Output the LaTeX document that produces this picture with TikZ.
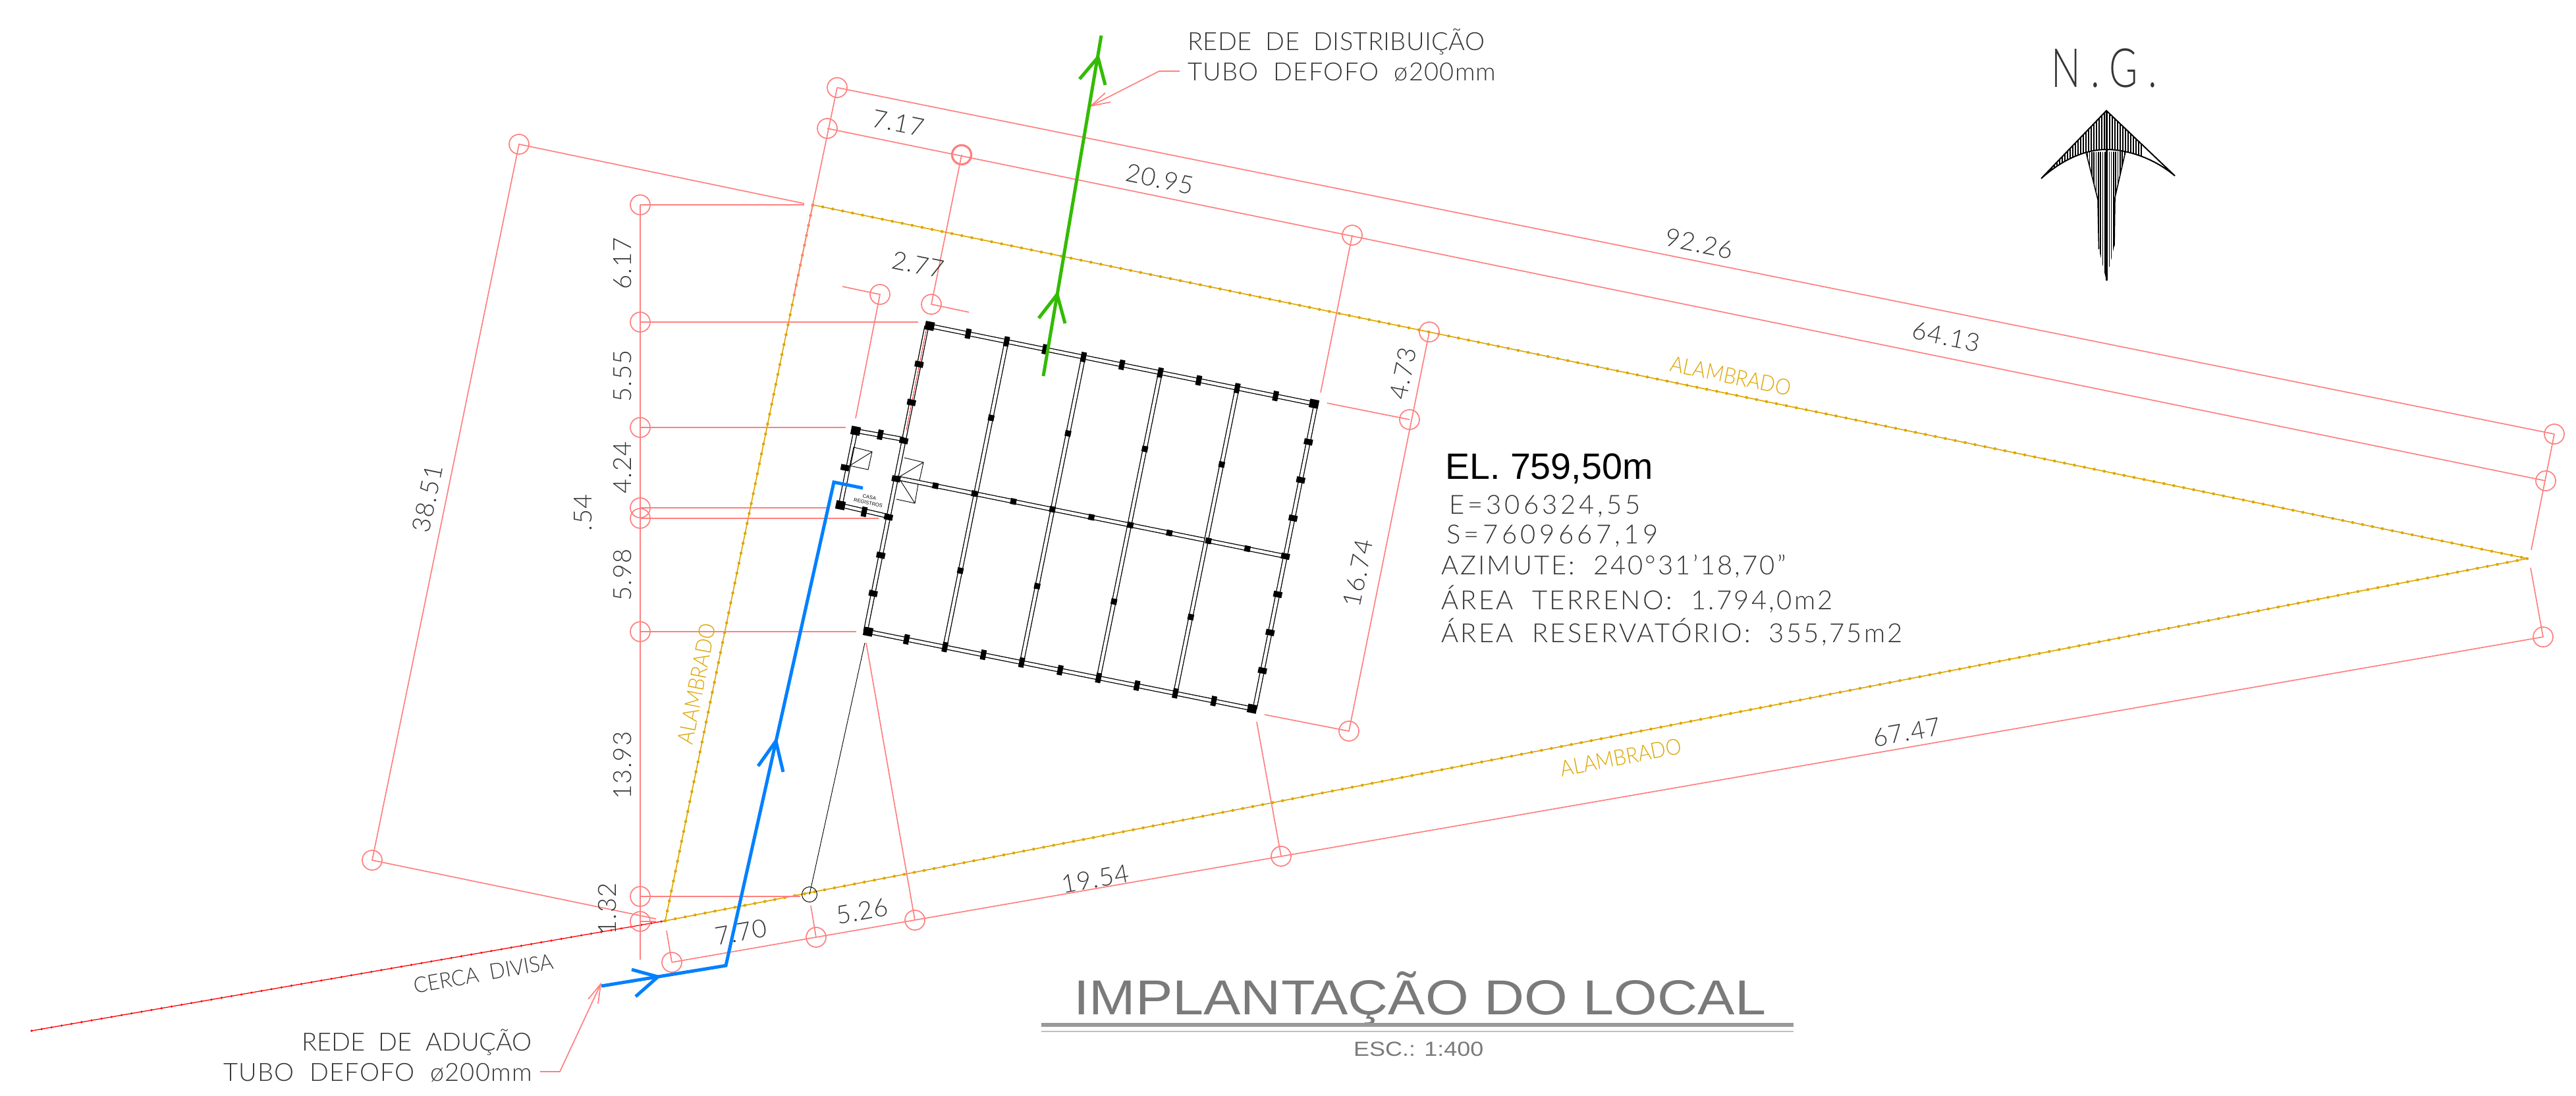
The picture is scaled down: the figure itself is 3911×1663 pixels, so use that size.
\documentclass[tikz,border=0pt]{standalone}
\usepackage{fontspec}
\usetikzlibrary{calc}
\setmainfont{Liberation Sans}
\newfontfamily\cadfont{Lato Light}
\definecolor{cota}{HTML}{FF8080}
\definecolor{alamb}{HTML}{DDA600}
\definecolor{tuboaz}{HTML}{0080FF}
\definecolor{tubove}{HTML}{33BB00}
\definecolor{texto}{HTML}{353535}
\tikzset{
	cotaln/.style={draw=cota, line width=1.7pt},
	alambln/.style={draw=alamb, line width=1.6pt, postaction={draw=alamb, line width=4.6pt, line cap=round, dash pattern=on 0pt off 15.4pt}},
	cercaln/.style={draw=red, line width=1.3pt, postaction={draw=red, line width=3.6pt, line cap=round, dash pattern=on 0pt off 15.4pt}},
	azul/.style={draw=tuboaz, line width=5pt},
	verde/.style={draw=tubove, line width=5pt},
	viga/.style={draw=black, line width=1.3pt, double=white, double distance=4.5pt},
	pilarh/.style={fill=black, inner sep=0pt, minimum width=8pt, minimum height=15pt, rotate=-11.4},
	pilarv/.style={fill=black, inner sep=0pt, minimum width=13pt, minimum height=9pt, rotate=-11.4},
	pilarq/.style={fill=black, inner sep=0pt, minimum size=9pt, rotate=-11.4},
	pilarc/.style={fill=black, inner sep=0pt, minimum width=14pt, minimum height=13pt, rotate=-11.4},
	medida/.style={text=texto, inner sep=0pt, font=\cadfont\addfontfeature{LetterSpace=4}\fontsize{38}{40}\selectfont},
	rotulo/.style={text=texto, inner sep=0pt, font=\cadfont\addfontfeature{LetterSpace=#1}\fontsize{38}{40}\selectfont},
	rotulo/.default=0,
	dado/.style={text=texto, inner sep=0pt, anchor=base west, font=\cadfont\addfontfeature{LetterSpace=#1}\fontsize{40}{42}\selectfont},
	ralamb/.style={text=alamb, inner sep=0pt, font=\cadfont\addfontfeature{FakeStretch=.9}\fontsize{33.5}{35}\selectfont},
	hachura/.style={draw=black, line width=1.6pt},
}
\begin{document}
\begin{tikzpicture}[x=1pt, y=-1pt]
	\useasboundingbox (0,0) rectangle (3911,1663);

	\draw[cercaln] (48,1565) -- (1010,1398);
	\draw[alambln] (1234,311) -- (3837,848);
	\draw[alambln] (1010,1398) -- (3837,848);
	\draw[alambln] (1010,1398) -- (1234,311);

	\foreach \cx/\cy in {1271/133,1256/195,1460/235,2053/357,3878/659,3865/730,3861/967,788/219,565/1306,
		972/311,972/489,972/649,972/771,972/787,972/959,972/1361,972/1399,
		1336/447,1414/462,2170/504,2140/637,2048/1110,1020/1461,1239/1423,1389/1397,1945/1300}
		\draw[cotaln] (\cx,\cy) circle (15pt);
	\draw[cotaln, line width=3.2pt] (1460,235) circle (14.5pt);

	\draw[cotaln] (1271,133) -- (3878,659);
	\draw[cotaln] (1256,195) -- (3865,730);
	\draw[cotaln] (1271,133) -- (1205,450);
	\draw[cotaln] (1221,309) -- (788,219) -- (565,1306) -- (996,1395);
	\draw[cotaln] (972,311) -- (972,1457);
	\draw[cotaln] (972,311) -- (1221,311);
	\draw[cotaln] (972,489) -- (1394,489);
	\draw[cotaln] (972,649) -- (1284,649);
	\draw[cotaln] (972,771) -- (1255,771);
	\draw[cotaln] (972,787) -- (1334,787);
	\draw[cotaln] (972,959) -- (1300,959);
	\draw[cotaln] (972,1361) -- (1215,1361);
	\draw[cotaln] (972,1399) -- (996,1399);
	\draw[cotaln] (1460,235) -- (1414,462) -- (1471,474);
	\draw[cotaln] (1279,435) -- (1336,447) -- (1299,635);
	\draw[cotaln] (2053,357) -- (2005,596);
	\draw[cotaln] (2170,504) -- (2048,1110) -- (1920,1085);
	\draw[cotaln] (2015,612) -- (2140,637);
	\draw[cotaln] (1020,1461) -- (3861,967);
	\draw[cotaln] (1012,1413) -- (1020,1461);
	\draw[cotaln] (1231,1375) -- (1239,1423);
	\draw[cotaln] (1315,976) -- (1389,1397);
	\draw[cotaln] (1908,1096) -- (1945,1300);
	\draw[cotaln] (3842,862) -- (3861,967);
	\draw[cotaln] (3843,835) -- (3878,659);
	\draw[cotaln] (1791,108) -- (1760,108) -- (1656,161);
	\draw[cotaln] (1678,141) -- (1656,161) -- (1686,155);
	\draw[cotaln] (820,1627) -- (850,1627) -- (912,1494);
	\draw[cotaln] (893,1517) -- (912,1494) -- (908,1524);

	\draw[draw=black, line width=1pt] (1229,1358) circle (11.5pt);
	\draw[draw=black, line width=.9pt] (1229,1358) -- (1313,976);

	\coordinate (nw) at (1411.5,494.8);
	\coordinate (ne) at (1995,613);
	\coordinate (sw) at (1318,959);
	\coordinate (se) at (1901,1076);
	\coordinate (nwp) at (1407,495);
	\coordinate (swp) at (1314,959);
	\coordinate (nep) at (1998,613);
	\coordinate (sep) at (1905,1076);
	\coordinate (mle) at (1361,725.5);
	\coordinate (mri) at (1953,845);

	\draw[viga] (nw) -- (ne);
	\draw[viga] (sw) -- (se);
	\draw[viga] (nwp) -- (swp);
	\draw[viga] (nep) -- (sep);
	\draw[viga] (mle) -- (mri);
	\foreach \i in {1,...,4}
		\draw[viga] ($(nw)!\i/5!(ne)$) -- ($(sw)!\i/5!(se)$);
	\draw[viga] (1372,667) -- (1299,654) -- (1276,767) -- (1349,784);
	\draw[draw=red, line width=.7pt] (1407,497) -- (1376,653);

	\foreach \i in {1,...,9} {
		\node[pilarh] (pn\i) at ($(nw)!\i/10!(ne)$) {};
		\node[pilarh] (ps\i) at ($(sw)!\i/10!(se)$) {};
		\node[pilarq] (pm\i) at ($(mle)!\i/10!(mri)$) {};
	}
	\foreach \i in {1,...,7} {
		\node[pilarv] (pe\i) at ($(nwp)!\i/8!(swp)$) {};
		\node[pilarv] (pd\i) at ($(nep)!\i/8!(sep)$) {};
	}
	\foreach \i in {1,...,4} {
		\node[pilarq] (pa\i) at ($($(nw)!\i/5!(ne)$)!.25!($(sw)!\i/5!(se)$)$) {};
		\node[pilarq] (pb\i) at ($($(nw)!\i/5!(ne)$)!.75!($(sw)!\i/5!(se)$)$) {};
	}
	\node[pilarc] (cnw) at (nw) {};
	\node[pilarc] (cne) at (ne) {};
	\node[pilarc] (csw) at (sw) {};
	\node[pilarc] (cse) at (se) {};
	\node[pilarc] (atl) at (1299,654) {};
	\node[pilarc] (abl) at (1276,767) {};
	\node[pilarh] (ato) at (1336.5,660) {};
	\node[pilarh] (abo) at (1312,777) {};
	\node[pilarv] (ale) at (1283,710) {};

	\draw[draw=black, line width=.9pt] (1296,679) -- (1324,686) -- (1318,713) -- (1290,707) -- cycle;
	\draw[draw=black, line width=.9pt] (1290,707) -- (1324,686);
	\draw[draw=black, line width=.9pt] (1373,695) -- (1402,702) -- (1396,729);
	\draw[draw=black, line width=.9pt] (1367,723) -- (1402,702);
	\draw[draw=black, line width=.9pt] (1394,735) -- (1389,764) -- (1361,758);
	\draw[draw=black, line width=.9pt] (1366,728) -- (1389,764);
	\node[rotate=-11.4, align=center, inner sep=0pt, font=\fontsize{7.5}{9}\selectfont] (casa) at (1319,759) {CASA\\REGISTROS};

	\draw[azul] (913,1497) -- (1102,1466) -- (1266,732) -- (1310,741);
	\draw[azul] (959,1472) -- (999,1483) -- (965,1513);
	\draw[azul] (1151,1163) -- (1178,1125) -- (1189,1172);
	\draw[verde] (1672,54) -- (1584,571);
	\draw[verde] (1639,120) -- (1667,87) -- (1678,129);
	\draw[verde] (1577,483) -- (1605,447) -- (1617,491);

	\draw[hachura, line width=2pt] (3099,271) -- (3198,168) -- (3302,267) .. controls (3270,240) and (3230,227) .. (3198,227) .. controls (3165,227) and (3130,243) .. (3099,271);
	\begin{scope}
		\clip (3099,271) -- (3198,168) -- (3302,267) .. controls (3270,240) and (3230,227) .. (3198,227) .. controls (3165,227) and (3130,243) .. (3099,271) -- cycle;
		\foreach \x in {3115,3119,...,3252}
			\draw[hachura] (\x,160) -- (\x,280);
	\end{scope}
	\begin{scope}
		\clip (3167,231) -- (3227,230) -- (3211,300) -- (3210,373) -- (3198,426) -- (3186.5,378) -- (3185,303) -- cycle;
		\foreach \x in {3166,3169.3,...,3228}
			\draw[hachura] (\x,225) -- (\x,430);
	\end{scope}
	\draw[hachura] (3167,231) -- (3185,303) -- (3186.5,378);
	\draw[hachura] (3227,230) -- (3211,300) -- (3210,373);
	\draw[draw=black, line width=3pt] (3198,168) -- (3198,426);
	\node[anchor=base west, inner sep=0pt, text=texto, font=\cadfont\addfontfeature{FakeStretch=.72,LetterSpace=19}\fontsize{82}{82}\selectfont] (ng) at (3114,132) {N.G.};

	\node[rotulo=1, anchor=base west] (dist1) at (1803,76) {REDE~~DE~~DISTRIBUIÇÃO};
	\node[rotulo=3.3, anchor=base west] (dist2) at (1803,122) {TUBO~~DEFOFO~~ø200mm};
	\node[rotulo, anchor=base east] (adu1) at (808,1595) {REDE~~DE~~ADUÇÃO};
	\node[rotulo=3.3, anchor=base east] (adu2) at (808,1641) {TUBO~~DEFOFO~~ø200mm};

	\node[anchor=base west, inner sep=0pt, text=black, font=\fontsize{55.6}{58}\selectfont] (elev) at (2194,727) {EL. 759,50m};
	\node[dado=12.5] (coe) at (2200,780) {E=306324,55};
	\node[dado=13.5] (cos) at (2196,825) {S=7609667,19};
	\node[dado=7.6] (azi) at (2188,872) {AZIMUTE:~~240°31’18,70”};
	\node[dado=8.2] (are) at (2188,925) {ÁREA~~TERRENO:~~1.794,0m2};
	\node[dado=8.1] (res) at (2188,975) {ÁREA~~RESERVATÓRIO:~~355,75m2};

	\node[medida, rotate=-11.5] (m1) at (1364,187) {7.17};
	\node[medida, rotate=-11.5] (m2) at (1761,272) {20.95};
	\node[medida, rotate=-11.5] (m3) at (2580,370) {92.26};
	\node[medida, rotate=-11.5] (m4) at (2955,511) {64.13};
	\node[medida, rotate=-11.5] (m5) at (1394,402) {2.77};
	\node[medida, rotate=78.5] (m6) at (2130,567) {4.73};
	\node[medida, rotate=78.5] (m7) at (2062,870) {16.74};
	\node[medida, rotate=78.5] (m8) at (649,757) {38.51};
	\node[medida, rotate=90] (m9) at (945,400) {6.17};
	\node[medida, rotate=90] (m10) at (945,571) {5.55};
	\node[medida, rotate=90] (m11) at (945,710) {4.24};
	\node[medida, rotate=90] (m12) at (885,778) {.54};
	\node[medida, rotate=90] (m13) at (945,873) {5.98};
	\node[medida, rotate=90] (m14) at (945,1162) {13.93};
	\node[medida, rotate=90] (m15) at (922,1380) {1.32};
	\node[medida, rotate=10] (m16) at (1125,1415) {7.70};
	\node[medida, rotate=10] (m17) at (1309,1383) {5.26};
	\node[medida, rotate=10] (m18) at (1663,1334) {19.54};
	\node[medida, rotate=10] (m19) at (2895,1112) {67.47};

	\node[ralamb, rotate=-11.6] (al1) at (2628,571) {ALAMBRADO};
	\node[ralamb, rotate=11] (al2) at (2461,1150) {ALAMBRADO};
	\node[ralamb, rotate=79] (al3) at (1058,1038) {ALAMBRADO};
	\node[text=texto, inner sep=0pt, rotate=10, font=\cadfont\addfontfeature{FakeStretch=.95}\fontsize{33}{34}\selectfont] (cerca) at (734,1478) {CERCA~~DIVISA};

	\node[anchor=base west, inner sep=0pt, text=black!52, font=\addfontfeature{FakeStretch=1.135}\fontsize{74.5}{76}\selectfont] (titulo) at (1630,1540) {IMPLANTAÇÃO DO LOCAL};
	\draw[draw=black!40, line width=6pt] (1581,1556) -- (2723,1556);
	\draw[draw=black!25, line width=2pt] (1581,1566) -- (2723,1566);
	\node[anchor=base west, inner sep=0pt, text=black!52, font=\addfontfeature{FakeStretch=1.16}\fontsize{31}{33}\selectfont] (esc) at (2055,1603) {ESC.: 1:400};
\end{tikzpicture}
\end{document}
